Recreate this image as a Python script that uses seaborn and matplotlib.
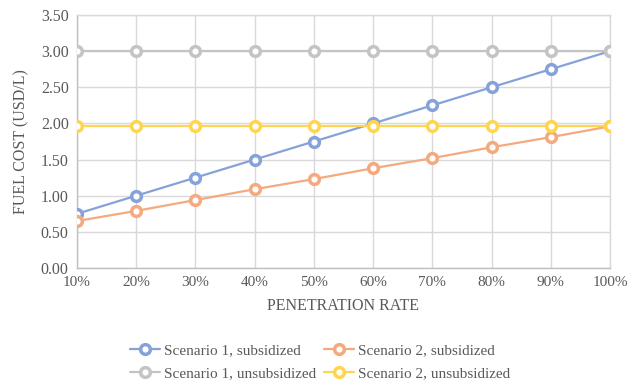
import matplotlib
matplotlib.use("Agg")
import matplotlib.pyplot as plt
import seaborn as sns
import pandas as pd

rates = ["10%", "20%", "30%", "40%", "50%", "60%", "70%", "80%", "90%", "100%"]
s1_sub = [0.75, 1.00, 1.25, 1.50, 1.75, 2.00, 2.25, 2.50, 2.75, 3.00]
s2_sub = [0.65, 0.79, 0.94, 1.09, 1.23, 1.38, 1.52, 1.67, 1.81, 1.96]
s1_unsub = [3.00] * 10
s2_unsub = [1.96] * 10
series_names = ["Scenario 1, subsidized", "Scenario 2, subsidized",
                "Scenario 1, unsubsidized", "Scenario 2, unsubsidized"]
colors = ["#86A2DA", "#F4A97F", "#C4C4C4", "#FFD54F"]

frames = []
for name, vals in zip(series_names, [s1_sub, s2_sub, s1_unsub, s2_unsub]):
    frames.append(pd.DataFrame({"rate": rates, "cost": vals, "series": name}))
df = pd.concat(frames, ignore_index=True)

sns.set_style("white")
plt.rcParams["font.family"] = ["Liberation Serif", "DejaVu Serif"]

fig = plt.figure(figsize=(6.27, 3.83), dpi=100)
ax = fig.add_axes([77 / 627, 1 - 268 / 383, (610 - 77) / 627, (268 - 15) / 383])

ax.set_xticks(range(len(rates)))
sns.lineplot(data=df, x="rate", y="cost", hue="series", hue_order=series_names,
             palette=colors, marker="o", markersize=7, markerfacecolor="white",
             markeredgewidth=2.5, linewidth=1.6, sort=False, ax=ax, zorder=3)
for line in ax.lines:
    line.set_markeredgecolor(line.get_color())

ax.set_xlim(0, len(rates) - 1)
ax.set_ylim(0, 3.5)
ax.set_yticks([0, 0.5, 1.0, 1.5, 2.0, 2.5, 3.0, 3.5])
ax.set_yticklabels([f"{v:.2f}" for v in ax.get_yticks()])
ax.grid(True, color="#D9D9D9", linewidth=1)
ax.set_axisbelow(True)
for side, sp in ax.spines.items():
    sp.set_color("#D9D9D9" if side in ("top", "right") else "#BFBFBF")
    sp.set_linewidth(1)
ax.tick_params(axis="y", length=0, labelsize=11.5, colors="#595959", pad=6)
ax.tick_params(axis="x", length=0, labelsize=11, colors="#595959", pad=6)
ax.set_xlabel("PENETRATION RATE", fontsize=11.5, color="#595959", labelpad=6)
ax.set_ylabel("FUEL COST (USD/L)", fontsize=11.5, color="#595959", labelpad=8)

# legend entries laid out row-wise: subsidized on top, unsubsidized below
handles, labels = ax.get_legend_handles_labels()
lookup = dict(zip(labels, handles))
order = ["Scenario 1, subsidized", "Scenario 1, unsubsidized",
         "Scenario 2, subsidized", "Scenario 2, unsubsidized"]
leg = ax.legend([lookup[k] for k in order], order, loc="upper center",
                bbox_to_anchor=(0.456, -0.245), ncol=2, frameon=False,
                fontsize=11, handlelength=2.0, columnspacing=0.5,
                labelspacing=0.6, handletextpad=0.25)
for t in leg.get_texts():
    t.set_color("#595959")

fig.savefig("out.png", dpi=100)
